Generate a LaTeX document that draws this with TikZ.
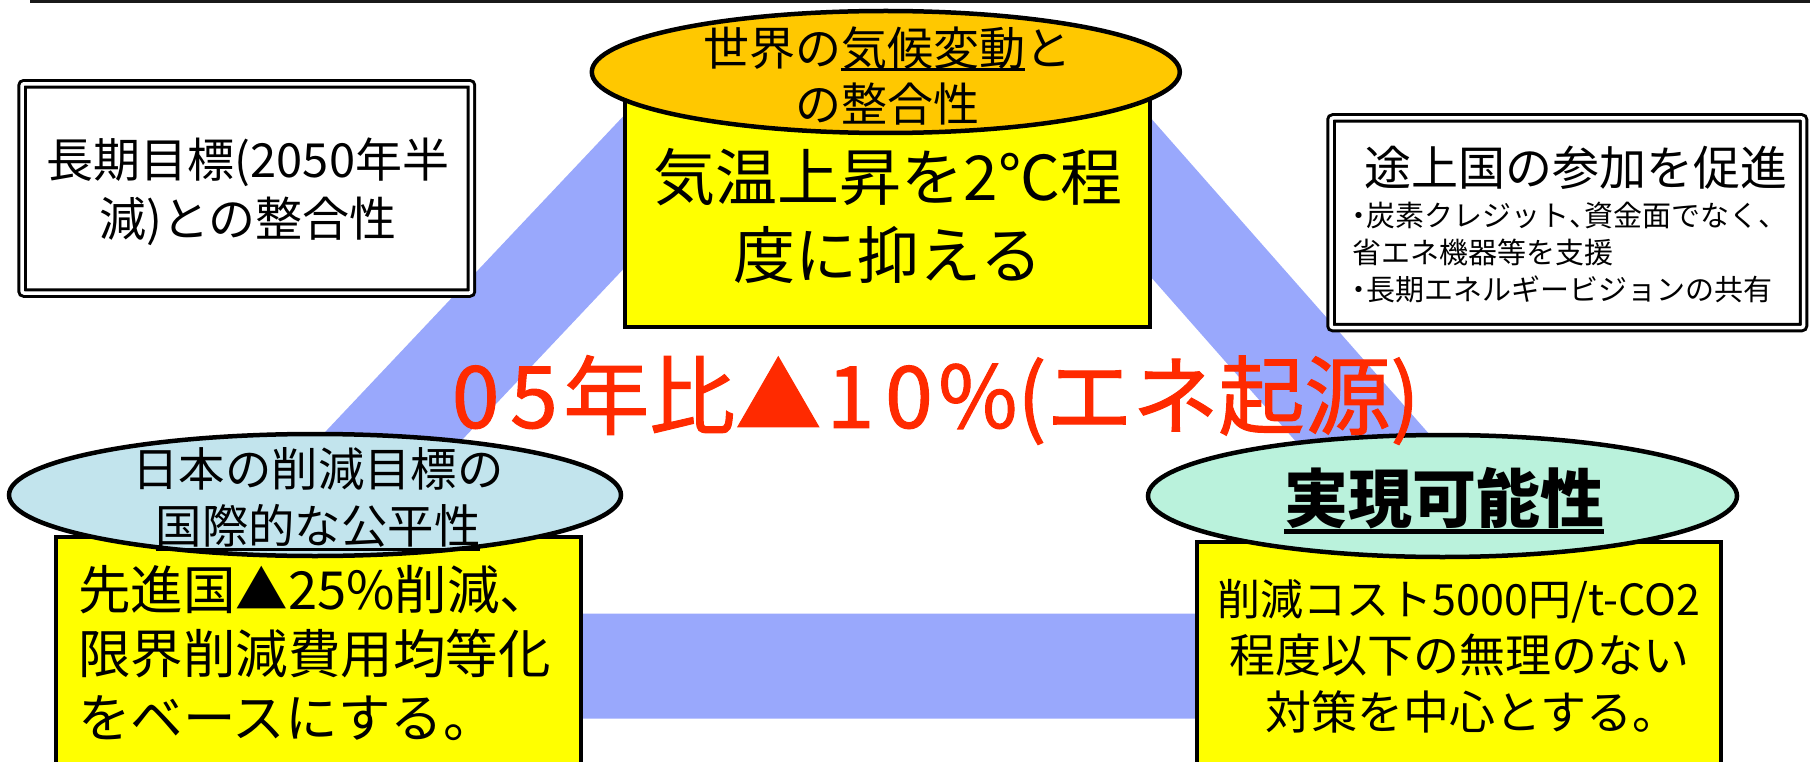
\documentclass[tikz,border=0pt]{standalone}
\usepackage{fontspec}
\usetikzlibrary{shapes.geometric}
\newfontfamily\jp{Noto Sans CJK JP}
\newfontfamily\jpheavy[FakeBold=1.2]{Noto Sans CJK JP}
\definecolor{band}{RGB}{153,168,252}
\definecolor{boxyellow}{RGB}{255,255,0}
\definecolor{ellorange}{RGB}{255,200,0}
\definecolor{elllblue}{RGB}{194,228,237}
\definecolor{ellmint}{RGB}{186,242,220}
\definecolor{redtext}{RGB}{255,42,0}
\newcommand\jul[3][0.06em]{\leavevmode\setbox0\hbox{#3}\rlap{\rule[#2]{\wd0}{#1}}\box0}
\newcommand\halfc[1]{\makebox[0.5em][c]{#1}}
\newcommand\halfl[1]{\makebox[0.5em][l]{#1}}
\newcommand\wdig[1]{\makebox[0.68em][c]{#1}}
\begin{document}
\begin{tikzpicture}[x=1pt,y=-1pt,
  yelbox/.style={draw=black, fill=boxyellow, line width=4, rectangle, inner sep=0, outer sep=0},
  capell/.style={draw=black, line width=4.5, ellipse, inner sep=0, outer sep=0},
  dblbox/.style={draw=black, fill=white, double=white, double distance=3.5, line width=3, rounded corners=2, rectangle, inner sep=0, outer sep=0},
  txt/.style={inner sep=0, outer sep=0, text=black},
  bandline/.style={draw=band, line width=105, line join=miter, line cap=butt}
]
\useasboundingbox (0,0) rectangle (1810,762);

% top rule
\coordinate (tl1) at (30,1.35);
\coordinate (tl2) at (1810,1.35);
\draw[line width=2.7, black!90] (tl1) -- (tl2);

% blue triangle band
\coordinate (bandA) at (710.8,100);
\coordinate (bandBL) at (176.4,666);
\coordinate (bandBR) at (1563.6,666);
\coordinate (bandB) at (1064.9,100);
\begin{scope}
\clip (0,0) rectangle (1810,762);
\draw[bandline] (bandA) -- (bandBL) -- (bandBR) -- (bandB);
\end{scope}

% double-bordered boxes
\node[dblbox, minimum width=449.35, minimum height=209.25] (longterm) at (246.8,188.4) {};
\node[dblbox, minimum width=472.5, minimum height=209.5] (devbox) at (1567.25,222.75) {};

% yellow boxes
\node[yelbox, minimum width=525, minimum height=237] (topbox) at (887.5,208.5) {};
\node[yelbox, minimum width=524.8, minimum height=238.5] (leftbox) at (318.1,655.75) {};
\node[yelbox, minimum width=524, minimum height=233] (rightbox) at (1458.5,658.5) {};

% ellipses
\node[capell, fill=ellorange, minimum width=588, minimum height=122] (topell) at (885.8,72) {};
\node[capell, fill=elllblue, minimum width=612, minimum height=122] (leftell) at (315,495) {};
\node[capell, fill=ellmint, minimum width=589, minimum height=122] (rightell) at (1442.5,496) {};

% texts
\node[txt, align=center, font=\jp\fontsize{47}{59}\selectfont] (longtermtxt) at (248,191.5) {長期目標(2050年半\\減)との整合性};

\node[txt, align=center, font=\jp\fontsize{46}{56}\selectfont] (worldtxt) at (887,75.5) {世界の\jul{-0.13em}{気候変動}と\\の整合性};

\node[txt, align=center, font=\jp\fontsize{62}{77.5}\selectfont] (climtxt) at (888,216) {気温上昇を2℃程\\度に抑える};

\node[txt, font=\jp\fontsize{47}{56}\selectfont] (devtitle) at (1576,167.5) {途上国の参加を促進};
\node[txt, align=left, anchor=west, font=\jp\fontsize{29}{37}\selectfont] (devlist) at (1352,253) {\halfc{・}炭素クレジット\halfl{、}資金面でなく\halfl{、}\\省エネ機器等を支援\\\halfc{・}長期エネルギービジョンの共有};

\node[txt, text=redtext, font=\jpheavy\fontsize{86}{100}\selectfont] (target) at (933,400) {\wdig{0}\wdig{5}年比▲\wdig{1}\wdig{0}\%(エネ起源)};

\node[txt, align=center, font=\jp\fontsize{46.4}{57}\selectfont] (fairtxt) at (318,499.5) {日本の削減目標の\\\jul{-0.153em}{国際的な公平性}};

\node[txt, align=left, anchor=west, font=\jp\fontsize{52.5}{64}\selectfont] (fairbody) at (78,653) {先進国▲25\%削減、\\限界削減費用均等化\\をベースにする。};

\node[txt, font=\jp\bfseries\fontsize{64}{70}\selectfont] (feastxt) at (1444,500.5) {\jul[0.078em]{-0.186em}{実現可能性}};

\node[txt, align=center, font=\jp\fontsize{46}{57}\selectfont] (feasbody) at (1459,656) {{\fontsize{43}{57}\selectfont 削減コスト5000円/t-CO2}\\程度以下の無理のない\\\hspace*{0.55em}対策を中心とする。};
\end{tikzpicture}
\end{document}
